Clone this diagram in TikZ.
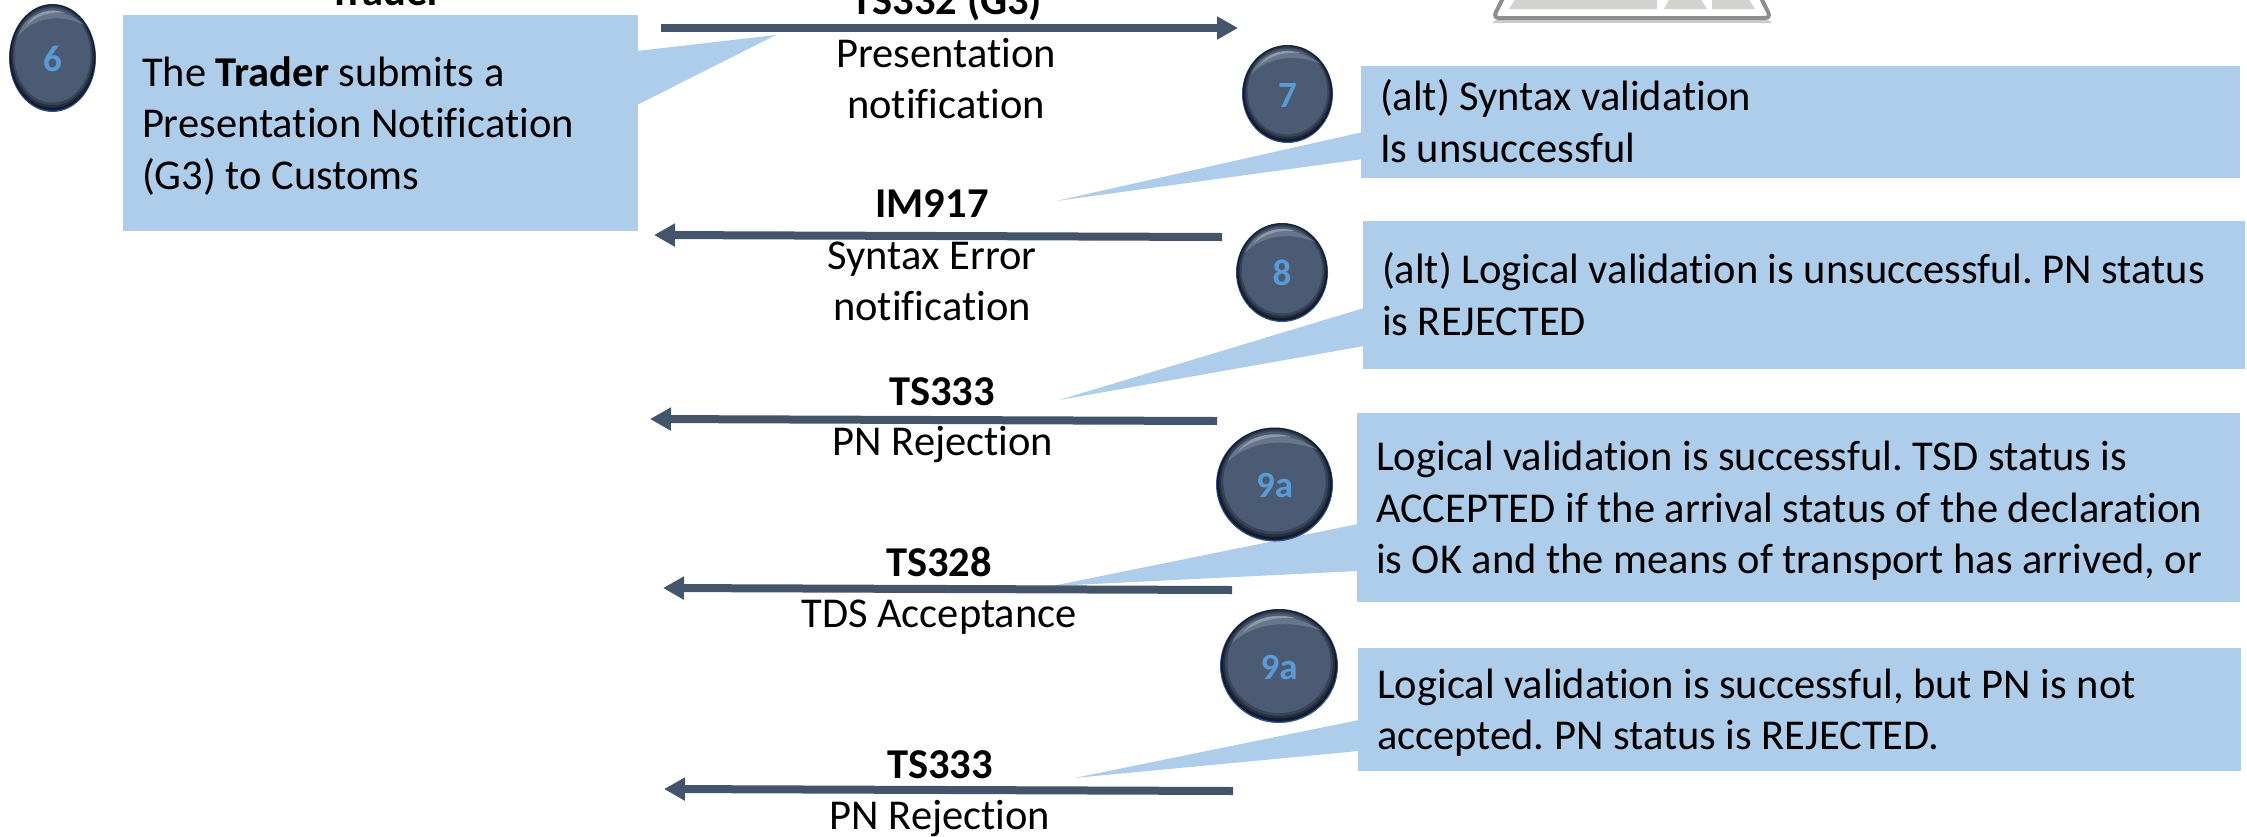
\documentclass[tikz,border=0pt]{standalone}
\usepackage{fontspec}
\setmainfont{Carlito}[Ligatures=NoCommon]
\frenchspacing
\usetikzlibrary{arrows.meta,shapes.geometric}
\definecolor{boxblue}{HTML}{AECDEA}
\definecolor{flowslate}{HTML}{44546A}
\definecolor{ballbase}{HTML}{4A5B73}
\definecolor{ballrim}{HTML}{2F5597}
\definecolor{ringa}{HTML}{141B29}
\definecolor{ringb}{HTML}{262F42}
\definecolor{ringc}{HTML}{384559}
\definecolor{glowa}{HTML}{68758A}
\definecolor{glowb}{HTML}{8E99A9}
\definecolor{numblue}{HTML}{5B9BD5}
\definecolor{kbline}{HTML}{8E8E8E}
\definecolor{kbkey}{HTML}{D2D2CE}
\newcommand{\ls}{\rule[-9.5pt]{0pt}{48pt}}
% numbered ball: name, x, y, rx, ry, text
\newcommand{\ballat}[6]{%
  \begin{scope}[shift={(#2,#3)},xscale=#4,yscale=#5]
    \fill[ballrim] (0,0) circle (1);
    \fill[ringa] (0,-.01) circle (.985);
    \fill[ringb] (0,-.03) circle (.95);
    \fill[ringc] (0,-.04) circle (.915);
    \fill[ballbase] (0,-.05) circle (.875);
    \fill[glowa] (-.80,-.40) .. controls (-.62,-.88) and (.10,-1.04) .. (.72,-.62)
      .. controls (.15,-.82) and (-.42,-.76) .. (-.80,-.40) -- cycle;
    \fill[glowb] (-.62,-.58) .. controls (-.42,-.86) and (-.05,-.94) .. (.28,-.84)
      .. controls (-.05,-.86) and (-.36,-.80) .. (-.62,-.58) -- cycle;
  \end{scope}
  \node[balltext={#4}{#5}] (#1) at (#2,#3) {#6};
}
\tikzset{
  txt/.style={font=\fontsize{42.5}{51.5}\selectfont, inner sep=0pt, align=center},
  lbl/.style={txt},
  boldlbl/.style={txt, font=\fontsize{42.5}{51.5}\selectfont\bfseries},
  callbox/.style n args={2}{txt, fill=boxblue, align=flush left, inner xsep=19pt, inner ysep=0pt,
    text width=#1pt-38pt, minimum width=#1pt, minimum height=#2pt},
  tailshape/.style={fill=boxblue},
  flow/.style={draw=flowslate, line width=8pt, -{Triangle[length=21pt,width=22pt]}},
  balltext/.style n args={2}{ellipse, inner sep=0pt, minimum width=2*#1pt, minimum height=2*#2pt,
    text=numblue, font=\fontsize{37}{40}\bfseries\selectfont, text height=26pt, text depth=0pt},
}
\begin{document}
\begin{tikzpicture}[x=1pt,y=-1pt]
\useasboundingbox (0,0) rectangle (2247,836);
\clip (0,0) rectangle (2247,836);

% keyboard fragment
\fill[kbline!45] (1496,20) -- (1768,20) -- (1772,23) -- (1492,23) -- cycle;
\draw[draw=kbline,line width=4pt,fill=white,rounded corners=6pt] (1506,-8) -- (1493,18) -- (1771,18) -- (1758,-8);
\fill[kbkey] (1516,-2) -- (1509,9) -- (1657,9) -- (1657,-2) -- cycle;
\fill[kbkey] (1670,-2) -- (1664,9) -- (1707,9) -- (1700,-2) -- cycle;
\fill[kbkey] (1712,-2) -- (1712,9) -- (1755,9) -- (1748,-2) -- cycle;

% named points of the callout tails
\coordinate (t6a) at (637,51);   \coordinate (t6tip) at (776,35);   \coordinate (t6b) at (637,105);
\coordinate (t7a) at (1363,132); \coordinate (t7tip) at (1056,201); \coordinate (t7b) at (1363,159);
\coordinate (t8a) at (1364,308); \coordinate (t8tip) at (1059,400); \coordinate (t8b) at (1364,346);
\coordinate (t9a) at (1358,524); \coordinate (t9tip) at (1052,586); \coordinate (t9b) at (1358,571);
\coordinate (t0a) at (1359,720); \coordinate (t0tip) at (1074,778); \coordinate (t0b) at (1359,751);
\fill[tailshape] (t6a) -- (t6tip) -- (t6b) -- cycle;
\fill[tailshape] (t7a) -- (t7tip) -- (t7b) -- cycle;
\fill[tailshape] (t8a) -- (t8tip) -- (t8b) -- cycle;
\fill[tailshape] (t9a) -- (t9tip) -- (t9b) -- cycle;
\fill[tailshape] (t0a) -- (t0tip) -- (t0b) -- cycle;

% boxes
\node[callbox={515}{216}] (b6) at (380.5,123) {\ls The \textbf{Trader} submits a\\Presentation Notification\\(G3) to Customs\ls};
\node[callbox={879}{112}] (b7) at (1800.5,122) {\ls (alt) Syntax validation\\Is unsuccessful\ls};
\node[callbox={882}{148}] (b8) at (1804,295) {\ls (alt) Logical validation is unsuccessful. PN status\\is REJECTED\ls};
\node[callbox={883}{189}] (b9) at (1798.5,507.5) {\ls Logical validation is successful. TSD status is\\ACCEPTED if the arrival status of the declaration\\is OK and the means of transport has arrived, or\ls};
\node[callbox={883}{123}] (b0) at (1799.5,709.5) {\ls Logical validation is successful, but PN is not\\accepted. PN status is REJECTED.\ls};

% arrows
\coordinate (a1s) at (661,28);   \coordinate (a1e) at (1238,28);
\coordinate (a2s) at (1222,237); \coordinate (a2e) at (654,235);
\coordinate (a3s) at (1217,421); \coordinate (a3e) at (650,419);
\coordinate (a4s) at (1232,590); \coordinate (a4e) at (663,588);
\coordinate (a5s) at (1233,791); \coordinate (a5e) at (664,789);
\draw[flow] (a1s) -- (a1e);
\draw[flow] (a2s) -- (a2e);
\draw[flow] (a3s) -- (a3e);
\draw[flow] (a4s) -- (a4e);
\draw[flow] (a5s) -- (a5e);

% numbered balls
\ballat{n6}{52.5}{58}{43.5}{54}{6}
\ballat{n7}{1287.5}{94}{45.5}{49}{7}
\ballat{n8}{1282}{272.5}{46}{49.5}{8}
\ballat{n9}{1274.5}{484.5}{58.5}{57}{9a}
\ballat{n0}{1279}{666}{59}{57}{9a}

% message labels
\node[boldlbl] (l0) at (386,-9) {\ls Trader\ls};
\node[boldlbl] (l1) at (947,0) {\ls TS332 (G3)\ls};
\node[lbl] (l1b) at (946,78.5) {\ls Presentation\\notification\ls};
\node[boldlbl] (l2) at (932,203) {\ls IM917\ls};
\node[lbl] (l2b) at (932,280.5) {\ls Syntax Error\\notification\ls};
\node[boldlbl] (l3) at (942,391) {\ls TS333\ls};
\node[lbl] (l3b) at (943,441) {\ls PN Rejection\ls};
\node[boldlbl] (l4) at (939,562) {\ls TS328\ls};
\node[lbl] (l4b) at (939,613) {\ls TDS Acceptance\ls};
\node[boldlbl] (l5) at (940,764) {\ls TS333\ls};
\node[lbl] (l5b) at (940,815) {\ls PN Rejection\ls};
\end{tikzpicture}
\end{document}
